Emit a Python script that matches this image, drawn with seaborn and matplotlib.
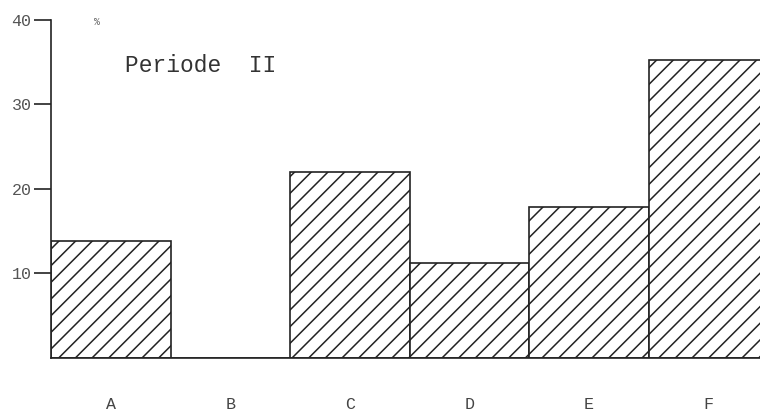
import matplotlib
matplotlib.use("Agg")
import matplotlib.pyplot as plt
import seaborn as sns
import pandas as pd

# values
categories = ["A", "B", "C", "D", "E", "F"]
shares = [13.8, 0.0, 22.0, 11.2, 17.85, 35.3]
y_ticks = [10, 20, 30, 40]

df = pd.DataFrame({"group": categories, "share": shares})

sns.set_style("white")
plt.rcParams["font.family"] = ["Liberation Mono", "DejaVu Sans"]
plt.rcParams["hatch.linewidth"] = 1.1

fig = plt.figure(figsize=(7.6, 4.11), dpi=100)
ax = fig.add_axes([51 / 760, 1 - 357.5 / 411, 1 - 51 / 760, (357.5 - 20) / 411])

sns.barplot(data=df, x="group", y="share", ax=ax, width=1.0,
            color="white", edgecolor="#222222", linewidth=1.2, hatch="//",
            saturation=1)

ax.set_ylim(0, 40)
ax.set_xlim(-0.5, 5.43)
ax.set_yticks(y_ticks)
ax.set_yticklabels([str(t) for t in y_ticks], color="#555555", fontsize=12)
ax.tick_params(axis="y", left=True, length=12, width=1.2, color="#222222", pad=2)
ax.tick_params(axis="x", bottom=False, pad=25, labelsize=12, labelcolor="#444444")
ax.set_xlabel("")
ax.set_ylabel("")

for side in ["top", "right"]:
    ax.spines[side].set_visible(False)
ax.spines["left"].set_color("#222222")
ax.spines["left"].set_linewidth(1.2)
ax.spines["bottom"].set_color("#222222")
ax.spines["bottom"].set_linewidth(1.2)

ax.text(97 / 760, 1 - 22 / 411, "%", transform=fig.transFigure, fontsize=7,
        color="#666666", ha="center", va="center")
ax.text(125 / 760, 1 - 66 / 411, "Periode  II", transform=fig.transFigure,
        fontsize=16.5, color="#333333", ha="left", va="center")

fig.savefig("out.png", dpi=100)
